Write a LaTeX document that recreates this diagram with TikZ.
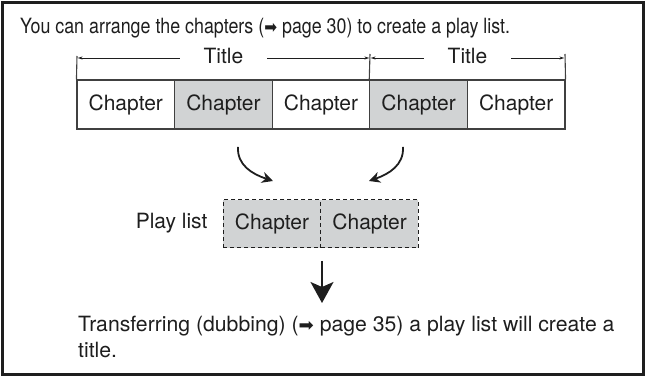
\documentclass[tikz,border=0pt]{standalone}
\usepackage{fontspec}
\setmainfont{TeX Gyre Heros}
\newfontfamily\symfont{DejaVu Sans}
\usetikzlibrary{arrows.meta}
\definecolor{ink}{HTML}{1E1E1E}
\definecolor{shade}{HTML}{D1D3D4}
\newcommand{\rarr}{{\symfont\fontsize{18}{18}\selectfont ➡}}
\begin{document}
\begin{tikzpicture}[x=1pt,y=-1pt,
  every node/.style={font=\fontsize{21}{28}\selectfont, text=ink},
  chap/.style={draw=ink!85, line width=1.1pt, minimum width=97.6pt, minimum height=49pt, inner sep=0pt},
  plchap/.style={draw=ink, dashed, dash pattern=on 4pt off 3pt, line width=1pt, fill=shade, minimum width=97.6pt, minimum height=48pt, inner sep=0pt},
  dim/.style={draw=ink, line width=0.8pt, {Stealth[length=5pt,width=3pt]}-{Stealth[length=5pt,width=3pt]}},
  tick/.style={draw=ink!85, line width=1.1pt},
  curv/.style={draw=ink, line width=1.8pt, -{Stealth[length=11pt,width=11pt,inset=3.5pt]}},
  downarr/.style={draw=ink, line width=1.8pt, -{Stealth[length=21pt,width=23pt,inset=5pt]}}
]
\useasboundingbox (0,0) rectangle (646,377);
\draw[line width=2.6pt, draw=ink] (2.3,2.3) rectangle (643.7,374.7);

\node[anchor=base west, inner sep=0pt] (intro) at (20,33.3) {\scalebox{0.85}[1]{You can arrange the chapters (\rarr\ page 30) to create a play list.}};

% chapter row
\node[chap] (c1) at (125.8,104.5) {Chapter};
\node[chap, fill=shade] (c2) at (223.4,104.5) {Chapter};
\node[chap] (c3) at (321,104.5) {Chapter};
\node[chap, fill=shade] (c4) at (418.6,104.5) {Chapter};
\node[chap] (c5) at (516.2,104.5) {Chapter};

% ticks
\coordinate (t1) at (77,56);
\coordinate (t2) at (370,54);
\coordinate (t3) at (565,54);
\draw[tick] (c1.north west) -- (t1);
\draw[tick] (c4.north west) -- (t2);
\draw[tick] (c5.north east) -- (t3);
\coordinate (d1) at (77.6,58);
\coordinate (d2a) at (369.4,58);
\coordinate (d2b) at (370.6,58);
\coordinate (d3) at (564.4,58);
\draw[dim] (d1) -- (d2a);
\draw[dim] (d2b) -- (d3);
\node[fill=white, inner xsep=24pt, inner ysep=1pt] (ti1) at (223.5,56) {Title};
\node[fill=white, inner xsep=24pt, inner ysep=1pt] (ti2) at (467.5,56) {Title};

% play list
\node[plchap] (p1) at (272,224) {Chapter};
\node[plchap] (p2) at (369.6,224) {Chapter};
\node[anchor=base east] (pl) at (211,229) {Play list};

% arrows
\coordinate (a1s) at (238,147);
\coordinate (a1e) at (273,181);
\coordinate (a2s) at (403,147);
\coordinate (a2e) at (369,181);
\draw[curv] (a1s) .. controls (237,165) and (252,174) .. (a1e);
\draw[curv] (a2s) .. controls (404,165) and (389,174) .. (a2e);
\coordinate (ds) at (322,261);
\coordinate (de) at (322,303);
\draw[downarr] (ds) -- (de);

% bottom text
\node[anchor=base west, inner sep=0pt] (b1) at (78,331) {\scalebox{1.01}[1]{Transferring (dubbing) (\rarr\ page 35) a play list will create a}};
\node[anchor=base west, inner sep=0pt] (b2) at (78,357) {\scalebox{1.01}[1]{title.}};
\end{tikzpicture}
\end{document}
